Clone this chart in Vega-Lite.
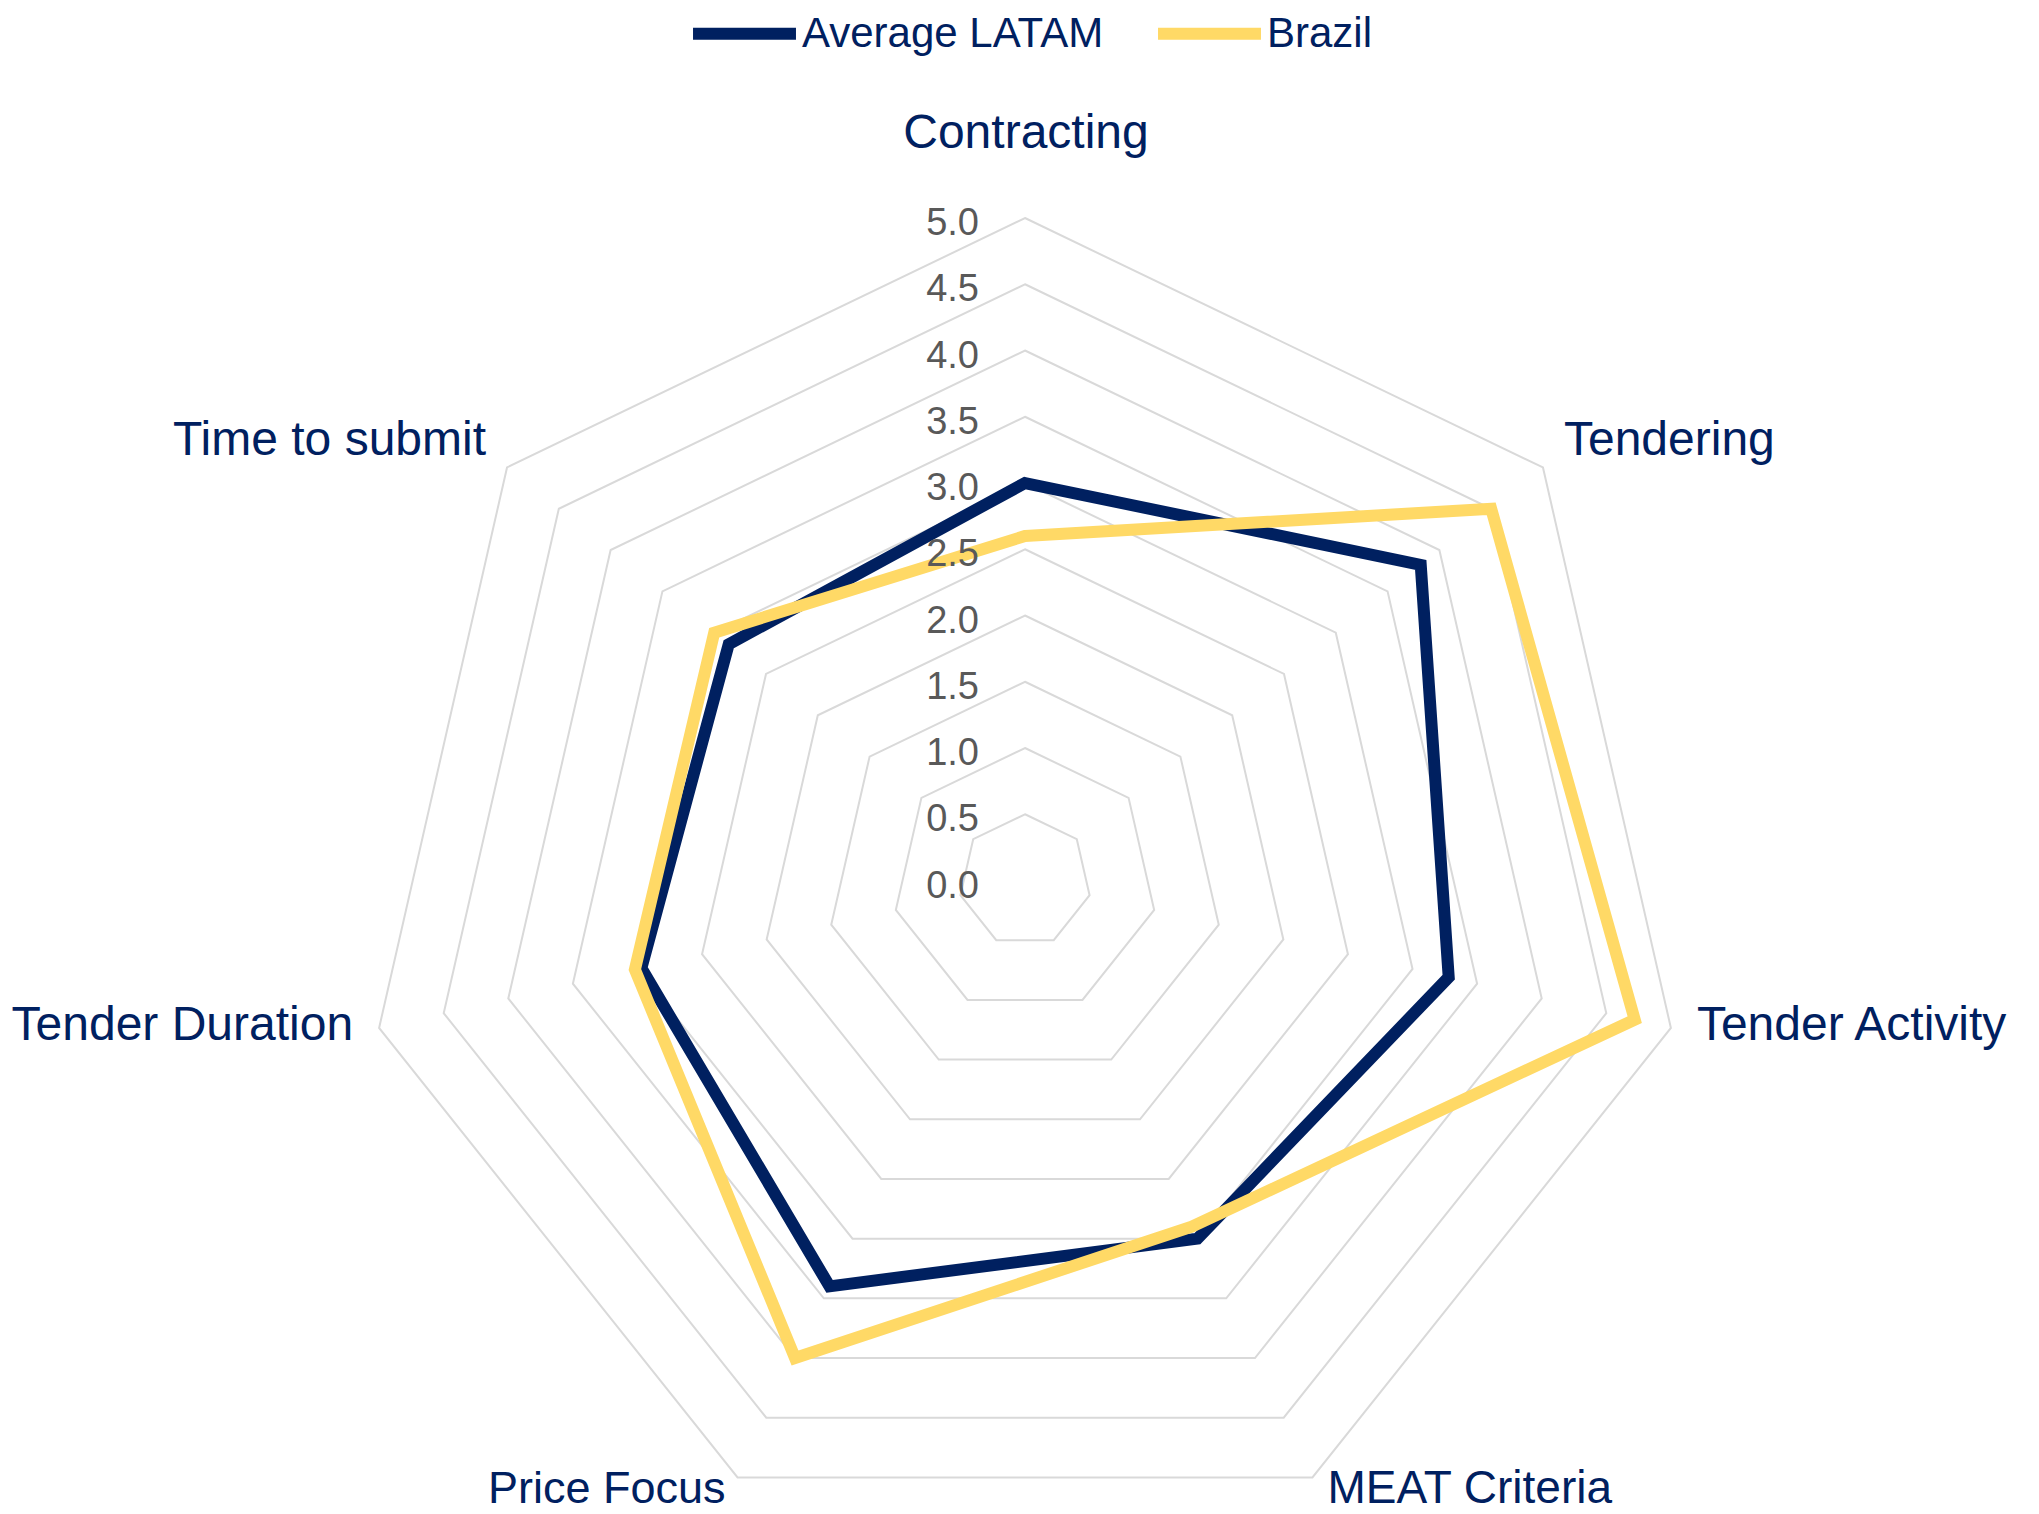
{
  "$schema": "https://vega.github.io/schema/vega-lite/v6.json",
  "width": 2039,
  "height": 1514,
  "autosize": {"type": "none"},
  "padding": 0,
  "background": "white",
  "config": {"view": {"stroke": null}, "font": "Liberation Sans"},
  "datasets": {
    "scores": [
      {"series": "Average LATAM", "axis": "Contracting", "k": 0, "value": 3.0},
      {"series": "Average LATAM", "axis": "Tendering", "k": 1, "value": 3.82},
      {"series": "Average LATAM", "axis": "Tender Activity", "k": 2, "value": 3.28},
      {"series": "Average LATAM", "axis": "MEAT Criteria", "k": 3, "value": 3.0},
      {"series": "Average LATAM", "axis": "Price Focus", "k": 4, "value": 3.4},
      {"series": "Average LATAM", "axis": "Tender Duration", "k": 5, "value": 2.97},
      {"series": "Average LATAM", "axis": "Time to submit", "k": 6, "value": 2.86},
      {"series": "Brazil", "axis": "Contracting", "k": 0, "value": 2.6},
      {"series": "Brazil", "axis": "Tendering", "k": 1, "value": 4.5},
      {"series": "Brazil", "axis": "Tender Activity", "k": 2, "value": 4.72},
      {"series": "Brazil", "axis": "MEAT Criteria", "k": 3, "value": 2.9},
      {"series": "Brazil", "axis": "Price Focus", "k": 4, "value": 4.0},
      {"series": "Brazil", "axis": "Tender Duration", "k": 5, "value": 3.02},
      {"series": "Brazil", "axis": "Time to submit", "k": 6, "value": 3.0}
    ],
    "axes": [
      {"axis": "Contracting", "k": 0},
      {"axis": "Tendering", "k": 1},
      {"axis": "Tender Activity", "k": 2},
      {"axis": "MEAT Criteria", "k": 3},
      {"axis": "Price Focus", "k": 4},
      {"axis": "Tender Duration", "k": 5},
      {"axis": "Time to submit", "k": 6}
    ],
    "rings": [
      {"level": 0.5, "k": [0, 1, 2, 3, 4, 5, 6]},
      {"level": 1.0, "k": [0, 1, 2, 3, 4, 5, 6]},
      {"level": 1.5, "k": [0, 1, 2, 3, 4, 5, 6]},
      {"level": 2.0, "k": [0, 1, 2, 3, 4, 5, 6]},
      {"level": 2.5, "k": [0, 1, 2, 3, 4, 5, 6]},
      {"level": 3.0, "k": [0, 1, 2, 3, 4, 5, 6]},
      {"level": 3.5, "k": [0, 1, 2, 3, 4, 5, 6]},
      {"level": 4.0, "k": [0, 1, 2, 3, 4, 5, 6]},
      {"level": 4.5, "k": [0, 1, 2, 3, 4, 5, 6]},
      {"level": 5.0, "k": [0, 1, 2, 3, 4, 5, 6]}
    ],
    "ticks": [
      {"level": 0.0}, {"level": 0.5}, {"level": 1.0}, {"level": 1.5}, {"level": 2.0},
      {"level": 2.5}, {"level": 3.0}, {"level": 3.5}, {"level": 4.0}, {"level": 4.5}, {"level": 5.0}
    ]
  },
  "layer": [
    {
      "data": {"name": "rings"},
      "transform": [
        {"flatten": ["k"]},
        {"calculate": "PI/2 - datum.k*2*PI/7", "as": "a"},
        {"calculate": "datum.level*cos(datum.a)", "as": "px"},
        {"calculate": "datum.level*sin(datum.a)", "as": "py"}
      ],
      "mark": {"type": "line", "interpolate": "linear-closed", "stroke": "#D9D9D9", "strokeWidth": 2},
      "encoding": {
        "x": {"field": "px", "type": "quantitative", "scale": {"domain": [-7.7358, 7.6528], "nice": false, "zero": false}, "axis": null},
        "y": {"field": "py", "type": "quantitative", "scale": {"domain": [-4.7811, 6.6453], "nice": false, "zero": false}, "axis": null},
        "detail": {"field": "level", "type": "nominal"},
        "order": {"field": "k", "type": "quantitative"}
      }
    },
    {
      "data": {"name": "scores"},
      "transform": [
        {"calculate": "PI/2 - datum.k*2*PI/7", "as": "a"},
        {"calculate": "datum.value*cos(datum.a)", "as": "px"},
        {"calculate": "datum.value*sin(datum.a)", "as": "py"}
      ],
      "mark": {"type": "line", "interpolate": "linear-closed", "strokeWidth": 12, "strokeJoin": "miter"},
      "encoding": {
        "x": {"field": "px", "type": "quantitative"},
        "y": {"field": "py", "type": "quantitative"},
        "order": {"field": "k", "type": "quantitative"},
        "color": {
          "field": "series",
          "type": "nominal",
          "scale": {"domain": ["Average LATAM", "Brazil"], "range": ["#002060", "#FFD966"]},
          "legend": {
            "title": null,
            "orient": "none",
            "legendX": 687,
            "legendY": -24,
            "direction": "horizontal",
            "symbolType": "stroke",
            "symbolStrokeWidth": 12,
            "symbolSize": 10600,
            "labelFontSize": 42,
            "labelColor": "#002060",
            "labelFont": "Liberation Sans",
            "labelOffset": 0,
            "columnPadding": 30,
            "padding": 0,
            "labelLimit": 0
          }
        }
      }
    },
    {
      "data": {"name": "ticks"},
      "mark": {"type": "text", "align": "right", "baseline": "middle", "dx": -46, "dy": 6, "fontSize": 38, "color": "#595959"},
      "encoding": {
        "x": {"datum": 0, "type": "quantitative"},
        "y": {"field": "level", "type": "quantitative"},
        "text": {"field": "level", "type": "quantitative", "format": ".1f"}
      }
    },
    {
      "data": {"name": "axes"},
      "transform": [
        {"calculate": "PI/2 - datum.k*2*PI/7", "as": "a"},
        {"calculate": "5*cos(datum.a)", "as": "px"},
        {"calculate": "5*sin(datum.a)", "as": "py"}
      ],
      "encoding": {
        "x": {"field": "px", "type": "quantitative"},
        "y": {"field": "py", "type": "quantitative"},
        "text": {"field": "axis", "type": "nominal"}
      },
      "layer": [
        {"transform": [{"filter": "datum.axis === 'Contracting'"}], "mark": {"type": "text", "align": "center", "baseline": "alphabetic", "dx": 1, "dy": -70, "fontSize": 48, "color": "#002060"}},
        {"transform": [{"filter": "datum.axis === 'Tendering'"}], "mark": {"type": "text", "align": "left", "baseline": "alphabetic", "dx": 21, "dy": -12, "fontSize": 48, "color": "#002060"}},
        {"transform": [{"filter": "datum.axis === 'Time to submit'"}], "mark": {"type": "text", "align": "right", "baseline": "alphabetic", "dx": -21, "dy": -12, "fontSize": 48, "color": "#002060"}},
        {"transform": [{"filter": "datum.axis === 'Tender Activity'"}], "mark": {"type": "text", "align": "left", "baseline": "alphabetic", "dx": 26, "dy": 12, "fontSize": 48, "color": "#002060"}},
        {"transform": [{"filter": "datum.axis === 'Tender Duration'"}], "mark": {"type": "text", "align": "right", "baseline": "alphabetic", "dx": -26, "dy": 12, "fontSize": 48, "color": "#002060"}},
        {"transform": [{"filter": "datum.axis === 'MEAT Criteria'"}], "mark": {"type": "text", "align": "left", "baseline": "alphabetic", "dx": 15, "dy": 26, "fontSize": 46, "color": "#002060"}},
        {"transform": [{"filter": "datum.axis === 'Price Focus'"}], "mark": {"type": "text", "align": "right", "baseline": "alphabetic", "dx": -12, "dy": 26, "fontSize": 45, "color": "#002060"}}
      ]
    }
  ]
}
